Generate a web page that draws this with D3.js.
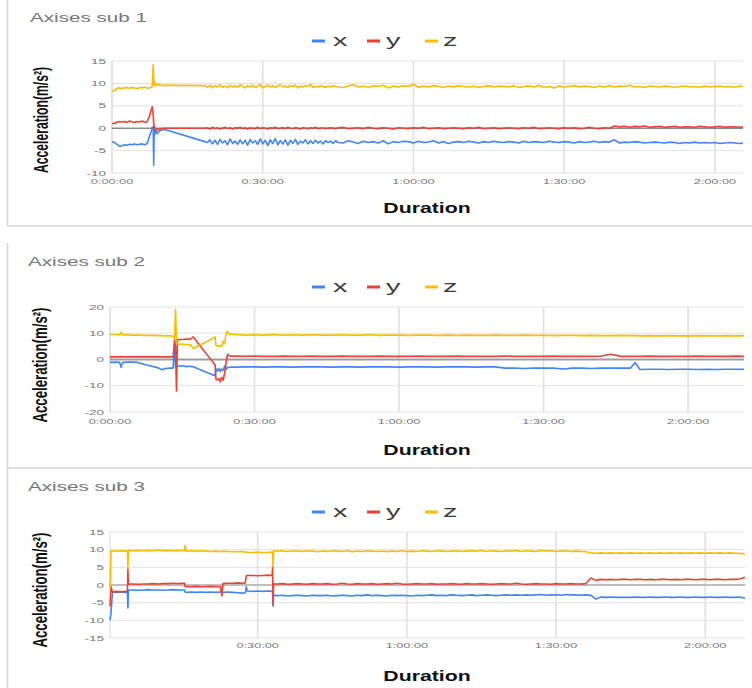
<!DOCTYPE html>
<html><head><meta charset="utf-8">
<script src="https://cdn.jsdelivr.net/npm/d3@7"></script>
<style>html,body{margin:0;padding:0;background:#fff;} svg{display:block;}</style>
</head><body>
<svg id="c" width="752" height="688"></svg>
<script>
// ---------------- DATA ----------------
const seriesNames = ["x", "y", "z"];
const seriesColors = ["#4285f4", "#ea4335", "#fbbc04"];
const titles = ["Axises sub 1", "Axises sub 2", "Axises sub 3"];
const xTickValues = [0, 30, 60, 90, 120];
const xTickLabels = ["0:00:00", "0:30:00", "1:00:00", "1:30:00", "2:00:00"];
const yTicks1 = [-10, -5, 0, 5, 10, 15];
const yTicks2 = [-20, -10, 0, 10, 20];
const yTicks3 = [-15, -10, -5, 0, 5, 10, 15];
const xDomain1 = [0, 125.6];
const xDomain2 = [0, 131.6];
const xDomain3 = [0.3, 128];

// Panel 1 (time in minutes)
const T1 = [0,0.5,1,1.5,2,2.5,3,3.5,4,4.5,5,5.5,6,6.5,7,7.4,7.8,8.0,8.2,8.3,8.4,8.5,8.7,9.0,9.3,9.6,10.0,10.5,18.5,
19,19.5,20,20.5,21,21.5,22,22.5,23,23.5,24,24.5,25,25.5,26,26.5,27,27.5,28,28.5,29,29.5,30,30.5,31,31.5,32,32.5,33,33.5,34,34.5,35,35.5,36,36.5,37,37.5,38,38.5,39,39.5,40,40.5,41,41.5,42,42.5,43,43.5,44,44.5,45,
46,47,48,49,50,51,52,53,54,55,56,57,58,59,60,61,62,63,64,65,66,67,68,69,70,71,72,73,74,75,76,77,78,79,80,81,82,83,84,85,86,87,88,89,90,91,92,93,94,95,96,97,98,99,100,101,102,103,104,105,106,107,108,109,110,111,112,113,114,115,116,117,118,119,120,121,122,123,124,125,125.6];
const X1 = [-3.0,-3.2,-3.6,-4.0,-3.9,-3.7,-3.8,-3.6,-3.7,-3.5,-3.7,-3.6,-3.5,-3.7,-3.4,
-2.0,-0.8,0.2,0.3,-8.3,0.4,-1.5,-0.4,
-1.2,-0.8,-0.5,-0.4,-0.3,
-3.0,
-3.2,-2.6,-3.5,-2.7,-3.6,-2.5,-3.3,-2.8,-3.7,-2.4,
-3.4,-2.9,-3.6,-2.6,-3.5,-2.7,-3.8,-2.5,-3.3,-2.8,
-3.6,-2.4,-3.5,-2.7,-3.9,-2.6,-3.4,-2.3,-3.7,-2.8,
-3.5,-2.6,-3.8,-2.7,-3.4,-2.5,-3.6,-2.9,-3.3,-2.6,
-3.5,-2.8,-3.4,-2.7,-3.3,-2.9,-3.5,-2.8,-3.2,-2.9,
-3.4,-2.8,-3.2,
-3.3,-2.8,-3.1,
-3.4,-2.9,-3.2,-3.0,-3.3,-2.8,-3.5,-3.0,-3.2,-2.9,
-3.0,-3.3,-2.9,-3.2,-3.1,-2.8,-3.3,-3.0,-3.4,-3.1,
-3.0,-3.2,-2.9,-3.1,-3.3,-3.0,-3.2,-2.9,-3.1,-3.2,
-3.0,-3.1,-3.3,-2.9,-3.2,-3.0,-3.1,-3.2,-2.9,-3.1,
-3.2,-3.0,-3.1,-3.3,-3.0,-3.2,-3.1,-2.9,-3.2,-3.0,
-3.1,-2.6,-3.3,-3.1,-3.2,-3.0,-3.1,-3.3,-3.2,-3.1,
-3.2,-3.3,-3.1,-3.2,-3.4,-3.2,-3.3,-3.1,-3.3,-3.2,
-3.3,-3.2,-3.4,-3.3,-3.2,-3.3,-3.4,
-3.3];
const Y1 = [1.0,1.1,1.3,1.5,1.4,1.5,1.3,1.6,1.4,1.3,1.5,1.4,1.6,1.3,1.5,
2.5,4.0,4.8,3.0,1.0,-0.2,0.3,-0.6,
-0.4,-0.2,-0.3,0.0,0.0,
0.0,
0.1,-0.2,0.2,-0.1,0.1,-0.2,0.0,0.2,-0.1,0.1,
-0.2,0.1,0.0,0.2,-0.1,0.1,-0.2,0.1,0.0,-0.1,
0.2,-0.1,0.1,0.0,-0.2,0.1,0.0,0.2,-0.1,0.0,
0.1,-0.1,0.2,0.0,-0.1,0.1,0.0,-0.2,0.1,0.0,
-0.1,0.1,0.0,0.2,-0.1,0.0,0.1,-0.1,0.0,0.1,
0.0,-0.1,0.1,
0.2,-0.1,0.0,
0.1,-0.1,0.2,0.0,-0.1,0.1,0.0,-0.2,0.1,0.0,
-0.1,0.1,0.0,0.2,-0.1,0.0,0.1,-0.1,0.0,0.1,
0.0,-0.1,0.1,0.0,0.2,-0.1,0.0,0.1,-0.1,0.0,
0.1,0.0,-0.1,0.1,0.0,0.2,-0.1,0.0,0.1,0.0,
-0.1,0.1,0.0,0.1,-0.1,0.0,0.2,0.0,-0.1,0.1,
0.0,0.5,0.3,0.4,0.2,0.4,0.3,0.5,0.2,0.3,
0.4,0.2,0.3,0.4,0.2,0.3,0.3,0.2,0.4,0.3,
0.2,0.3,0.4,0.2,0.3,0.3,0.2,
0.3];
const Z1 = [8.2,8.4,8.9,9.0,8.8,9.1,9.0,8.9,9.1,9.0,8.8,9.1,9.0,9.2,8.9,
9.0,9.1,9.3,14.2,10.5,9.6,10.3,9.5,
9.9,9.6,9.8,9.5,9.6,
9.5,
9.1,9.6,9.0,9.5,9.2,9.7,9.1,9.4,9.0,9.6,
9.2,9.5,9.1,9.7,9.3,9.0,9.5,9.2,9.6,9.1,
9.4,9.8,9.0,9.3,9.6,9.2,9.5,9.1,9.4,9.7,
9.2,9.4,9.1,9.5,9.3,9.6,9.0,9.4,9.2,9.5,
9.3,9.8,9.1,9.4,9.2,9.5,9.3,9.1,9.4,9.2,
9.5,9.3,9.2,
9.1,9.4,9.7,
9.2,9.4,9.1,9.5,9.3,9.6,9.0,9.4,9.2,9.5,
9.3,9.8,9.1,9.4,9.2,9.5,9.3,9.1,9.4,9.2,
9.5,9.3,9.2,9.4,9.1,9.3,9.5,9.2,9.4,9.3,
9.2,9.5,9.1,9.3,9.4,9.2,9.6,9.1,9.3,9.0,
9.4,9.2,9.3,9.5,9.2,9.4,9.3,9.1,9.4,9.2,
9.5,9.2,9.4,9.3,9.6,9.2,9.3,9.1,9.4,9.3,
9.2,9.4,9.3,9.1,9.3,9.4,9.2,9.3,9.1,9.4,
9.2,9.3,9.4,9.2,9.3,9.1,9.4,
9.3];

// Panel 2
const T2 = [0,1,2,2.3,2.6,3.5,4.5,5.8,7,8.5,10,10.8,11.5,12.5,13.1,13.4,13.6,13.8,14.0,14.3,15,16,16.6,17.3,19,20.5,21.8,22.0,22.3,22.6,22.9,23.2,23.5,23.8,24.1,24.4,24.7,25.0,
26,28,30,32,34,36,38,40,42,44,46,48,50,52,54,56,58,60,62,64,66,68,70,72,74,76,78,80,82,84,86,88,90,92,94,96,98,100,102,104,106,108,109,110,112,114,116,118,120,122,124,126,128,130,131.6];
const X2 = [-1.1,-1.0,-1.1,-3.0,-1.2,-1.0,-1.0,-1.1,-1.8,-2.5,
-3.2,-3.9,-3.4,-3.3,-3.3,5.5,-3.0,-2.3,-2.5,-2.6,
-2.4,-2.7,-2.6,-2.8,-4.1,-5.2,-6.2,-3.5,-4.4,-3.4,
-4.6,-3.6,-4.2,-2.5,-3.8,-2.9,-3.1,-2.9,
-2.9,-2.8,-2.8,-2.9,-2.8,-2.8,-2.9,-2.8,-2.8,-2.8,
-2.9,-2.8,-2.8,-2.9,-2.8,-2.8,-2.8,-2.9,-2.8,-2.8,
-2.8,-2.9,-2.8,-2.8,-2.8,-2.9,-2.8,-2.8,-3.3,-3.3,
-3.4,-3.3,-3.3,-3.3,-3.6,-3.3,-3.3,-3.4,-3.3,-3.3,
-3.3,-3.3,-1.2,-3.8,-3.7,-3.7,-3.8,-3.7,-3.7,-3.8,-3.7,
-3.8,-3.7,-3.7,
-3.7];
const Y2 = [1.0,1.0,1.0,1.1,1.0,1.0,1.0,1.0,1.0,1.0,
1.0,1.0,1.0,1.0,1.0,7.5,5.0,-12.0,7.5,7.6,
7.6,7.8,7.7,8.6,4.5,1.0,-2.0,-7.5,-7.8,-7.2,
-8.5,-6.8,-7.9,-5.0,-1.0,2.0,1.4,1.3,
1.3,1.2,1.3,1.2,1.2,1.3,1.2,1.2,1.3,1.2,
1.2,1.3,1.2,1.2,1.2,1.3,1.2,1.2,1.2,1.3,
1.2,1.2,1.2,1.3,1.2,1.2,1.2,1.2,1.3,1.2,
1.2,1.2,1.2,1.3,1.2,1.2,1.2,1.2,1.3,2.0,
1.2,1.2,1.2,1.2,1.3,1.2,1.2,1.2,1.2,1.3,1.2,
1.2,1.2,1.3,
1.2];
const Z2 = [9.5,9.5,9.4,10.3,9.4,9.4,9.3,9.3,9.2,9.2,
9.1,9.1,9.0,9.0,8.8,8.0,19.0,6.5,6.0,5.8,
5.9,5.6,5.7,4.2,5.8,7.2,8.6,5.4,5.0,5.3,
4.9,5.2,7.0,6.0,10.0,10.8,9.5,9.7,
9.5,9.3,9.4,9.3,9.5,9.3,9.4,9.3,9.4,9.3,
9.3,9.4,9.3,9.3,9.4,9.2,9.3,9.3,9.2,9.3,
9.3,9.2,9.3,9.2,9.3,9.2,9.2,9.3,9.2,9.2,
9.3,9.2,9.2,9.1,9.2,9.2,9.1,9.2,9.1,9.1,
9.2,9.1,9.1,9.0,9.1,9.0,9.1,9.0,9.0,9.1,9.0,
9.0,9.1,9.0,
9.0];

// Panel 3
const T3 = [0.3,0.5,0.8,1.5,2.5,3.5,3.8,3.9,4.0,4.2,5,6,7,8,9,10,11,12,13,14,15,15.3,15.4,15.6,16.5,17.5,18.5,19.5,20.5,21.5,22.5,22.8,23.0,24,25,26,27,27.5,27.7,27.9,29,30,31,32,32.9,33.0,33.1,33.2,33.4,
34,35,36,37,38,39,40,41,42,43,44,45,46,47,48,49,50,51,52,53,54,55,56,57,58,59,60,61,62,63,64,65,66,67,68,69,70,71,72,73,74,75,76,77,78,79,80,81,82,83,84,85,86,87,88,89,90,91,92,93,94,95,96,97,98,99,100,101,102,103,104,105,106,107,108,109,110,111,112,113,114,115,116,117,118,119,120,121,122,123,124,125,126,127,128];
const X3 = [-10.0,-8.0,-2.0,-2.1,-2.0,-2.1,-2.0,-6.5,-1.5,-1.4,
-1.4,-1.5,-1.4,-1.3,-1.4,-1.4,-1.5,-1.4,-1.3,-1.4,
-1.4,-1.4,-2.0,-2.1,-2.0,-2.1,-2.0,-2.1,-2.0,-2.1,
-2.0,-2.0,-2.1,-2.0,-2.1,-2.2,-2.3,-2.2,-0.5,-1.7,
-1.8,-1.7,-1.8,-1.7,-1.8,-1.8,-6.0,-3.0,-2.9,
-3.0,-2.9,-3.1,-3.0,-2.9,-3.0,-3.1,-2.9,-3.0,-3.0,
-2.9,-3.1,-3.0,-2.9,-3.0,-3.1,-2.9,-3.0,-2.8,-3.0,
-2.9,-3.0,-3.1,-2.9,-3.0,-2.9,-3.0,-3.1,-2.9,-3.0,
-2.9,-2.8,-3.0,-2.9,-3.0,-2.8,-2.9,-3.0,-2.9,-2.8,
-3.0,-2.9,-2.8,-2.9,-3.0,-2.9,-2.8,-2.9,-2.8,-2.9,
-2.8,-2.9,-2.8,-2.7,-2.9,-2.8,-2.8,-2.9,-2.7,-2.8,
-2.8,-2.9,-2.8,-2.9,-4.0,-3.4,-3.5,-3.4,-3.5,-3.5,
-3.5,-3.5,-3.4,-3.5,-3.5,-3.4,-3.5,-3.5,-3.4,-3.5,
-3.5,-3.4,-3.5,-3.5,-3.4,-3.5,-3.5,-3.4,-3.5,-3.5,
-3.4,-3.5,-3.5,-3.4,-3.8];
const Y3 = [-6.0,-0.5,-2.0,-1.8,-1.9,-1.8,-1.8,4.5,0.2,0.3,
0.3,0.2,0.3,0.3,0.4,0.3,0.4,0.4,0.5,0.4,
0.5,0.5,-0.4,-0.5,-0.5,-0.4,-0.5,-0.5,-0.4,-0.5,
-0.5,-3.0,0.4,0.5,0.5,0.6,0.5,0.6,2.6,2.7,
2.7,2.6,2.7,2.8,2.7,5.0,-5.5,0.4,0.3,
0.3,0.4,0.2,0.3,0.4,0.3,0.2,0.4,0.3,0.3,
0.4,0.2,0.3,0.5,0.3,0.2,0.4,0.3,0.3,0.4,
0.2,0.3,0.4,0.3,0.5,0.3,0.2,0.3,0.4,0.3,
0.3,0.4,0.2,0.3,0.3,0.4,0.3,0.2,0.4,0.3,
0.3,0.4,0.3,0.2,0.3,0.4,0.3,0.3,0.5,0.3,
0.2,0.3,0.4,0.3,0.3,0.2,0.4,0.3,0.3,0.4,
0.3,0.3,0.4,2.0,1.3,1.6,1.5,1.6,1.5,1.6,
1.6,1.5,1.6,1.6,1.5,1.6,1.5,1.6,1.6,1.5,
1.6,1.5,1.6,1.6,1.5,1.6,1.6,1.5,1.6,1.6,
1.5,1.6,1.6,1.7,2.2];
const Z3 = [-1.0,9.6,9.7,9.6,9.7,9.6,9.7,5.0,9.5,9.8,
9.7,9.8,9.7,9.8,9.7,9.9,9.7,9.8,9.7,9.8,
9.7,9.8,11.2,9.6,9.7,9.6,9.7,9.6,9.5,9.6,
9.5,9.4,9.6,9.5,9.4,9.5,9.4,9.3,9.4,9.2,
9.2,9.3,9.2,9.2,9.3,9.0,5.2,9.6,9.7,
9.6,9.7,9.5,9.7,9.6,9.5,9.7,9.6,9.4,9.6,
9.5,9.7,9.6,9.5,9.7,9.4,9.6,9.5,9.7,9.6,
9.5,9.6,9.4,9.6,9.5,9.7,9.5,9.6,9.5,9.7,
9.6,9.5,9.7,9.6,9.5,9.6,9.7,9.5,9.6,9.7,
9.6,9.8,9.5,9.7,9.6,9.5,9.7,9.6,9.8,9.5,
9.7,9.6,9.5,9.8,9.6,9.7,9.5,9.6,9.7,9.5,
9.6,9.5,9.4,9.1,9.0,9.1,9.0,9.1,9.0,9.1,
9.0,9.1,9.0,9.1,9.0,9.1,9.0,9.1,9.0,9.1,
9.0,9.1,9.0,9.1,9.0,9.1,9.0,9.1,9.0,9.1,
9.0,9.1,9.0,9.0,8.7];

// ---------------- DRAW ----------------
const svg = d3.select("#c");
svg.append("rect").attr("width", 752).attr("height", 688).attr("fill", "#fff");

// card outlines
const cardLines = [[7.5,0,7.5,226],[7.5,226,752,226],[7.5,243,7.5,468],[7.5,468,752,468],[7.5,468,7.5,688]];
svg.selectAll("line.card").data(cardLines).join("line").attr("class","card")
  .attr("x1",d=>d[0]).attr("y1",d=>d[1]).attr("x2",d=>d[2]).attr("y2",d=>d[3])
  .attr("stroke","#d6d6d6").attr("stroke-width",1.5);

const FONT = "'Liberation Sans', Arial, Helvetica, sans-serif";
function sText(g, x, y, str, o) {
  return g.append("text")
    .attr("transform", `translate(${x},${y}) scale(${o.sx || 1},1)`)
    .attr("text-anchor", o.anchor || "start")
    .attr("font-family", FONT)
    .attr("font-size", o.size)
    .attr("font-weight", o.weight || "normal")
    .attr("fill", o.fill || "#000")
    .text(str);
}

const panels = [
  {T:T1, S:[X1,Y1,Z1], xd:xDomain1, yd:[-10,15], yt:yTicks1, L:112, R:743, Tp:61, B:173,
   titleY:22, legY:41, ylx:42, yly:120, ylen:106, durY:213, tickY:184, zeroC:"#555", zeroW:1},
  {T:T2, S:[X2,Y2,Z2], xd:xDomain2, yd:[-20,20], yt:yTicks2, L:110, R:744, Tp:307, B:412,
   titleY:266, legY:287, ylx:41, yly:365, ylen:115, durY:455, tickY:424, zeroC:"#9e9e9e", zeroW:2},
  {T:T3, S:[X3,Y3,Z3], xd:xDomain3, yd:[-15,15], yt:yTicks3, L:110, R:745, Tp:532, B:638,
   titleY:491, legY:512, ylx:41, yly:590, ylen:115, durY:681, tickY:648, zeroC:"#a8a8a8", zeroW:1.5}
];

panels.forEach((p, i) => {
  p.S.forEach(s => { if (s.length !== p.T.length) throw new Error("length mismatch panel " + (i+1) + ": " + s.length + " vs " + p.T.length); });
  const g = svg.append("g");
  const x = d3.scaleLinear().domain(p.xd).range([p.L, p.R]);
  const y = d3.scaleLinear().domain(p.yd).range([p.B, p.Tp]);

  // title
  sText(g, i === 0 ? 30 : 28, p.titleY, titles[i], {size: 12.5, sx: 1.65, fill: "#777"});

  // legend
  const legX = [[312, 333], [367, 386], [425, 443]];
  seriesNames.forEach((n, k) => {
    g.append("line").attr("x1", legX[k][0]).attr("x2", legX[k][0] + 13)
      .attr("y1", p.legY).attr("y2", p.legY)
      .attr("stroke", seriesColors[k]).attr("stroke-width", 3);
    sText(g, legX[k][1], p.legY + 5, n, {size: 17, sx: 1.7, fill: "#3a3a3a"});
  });

  // horizontal gridlines
  g.selectAll("line.hg").data(p.yt.filter(v => v !== 0)).join("line").attr("class", "hg")
    .attr("x1", p.L).attr("x2", p.R).attr("y1", d => y(d)).attr("y2", d => y(d))
    .attr("stroke", "#e2e2e2").attr("stroke-width", 1);
  // vertical gridlines
  const xt = xTickValues.map((v, k) => ({v, lab: xTickLabels[k]})).filter(d => d.v >= p.xd[0] && d.v <= p.xd[1]);
  g.selectAll("line.vg").data(xt).join("line").attr("class", "vg")
    .attr("x1", d => x(d.v)).attr("x2", d => x(d.v)).attr("y1", p.Tp).attr("y2", p.B)
    .attr("stroke", "#e0e0e0").attr("stroke-width", 1.6);
  // left edge
  g.append("line").attr("x1", p.L).attr("x2", p.L).attr("y1", p.Tp).attr("y2", p.B)
    .attr("stroke", "#e2e2e2").attr("stroke-width", 1.2);
  // zero line
  g.append("line").attr("x1", p.L).attr("x2", p.R).attr("y1", y(0)).attr("y2", y(0))
    .attr("stroke", p.zeroC).attr("stroke-width", p.zeroW);

  // y tick labels
  p.yt.forEach(v => sText(g, p.L - 6, y(v) + 2.5, String(v), {size: 7.5, sx: 1.8, anchor: "end", fill: "#777"}));
  // x tick labels
  xt.forEach(d => sText(g, x(d.v), p.tickY, d.lab, {size: 7.5, sx: 1.7, anchor: "middle", fill: "#777"}));

  // series
  const line = d3.line().x(d => x(d[0])).y(d => y(d[1]));
  p.S.forEach((vals, k) => {
    const pts = p.T.map((t, j) => [t, vals[j]]);
    g.append("path").attr("d", line(pts)).attr("fill", "none")
      .attr("stroke", seriesColors[k]).attr("stroke-width", 1.6)
      .attr("stroke-linejoin", "round");
  });

  // axis titles
  sText(g, 427, p.durY, "Duration", {size: 14, sx: 1.52, anchor: "middle", weight: "bold", fill: "#111"});
  g.append("text")
    .attr("transform", `translate(${p.ylx + 6},${p.yly}) scale(1.6,1) rotate(-90)`)
    .attr("text-anchor", "middle")
    .attr("font-family", FONT).attr("font-size", 13).attr("font-weight", "bold").attr("fill", "#111")
    .attr("textLength", p.ylen).attr("lengthAdjust", "spacingAndGlyphs")
    .text("Acceleration(m/s²)");
});
</script>
</body></html>
